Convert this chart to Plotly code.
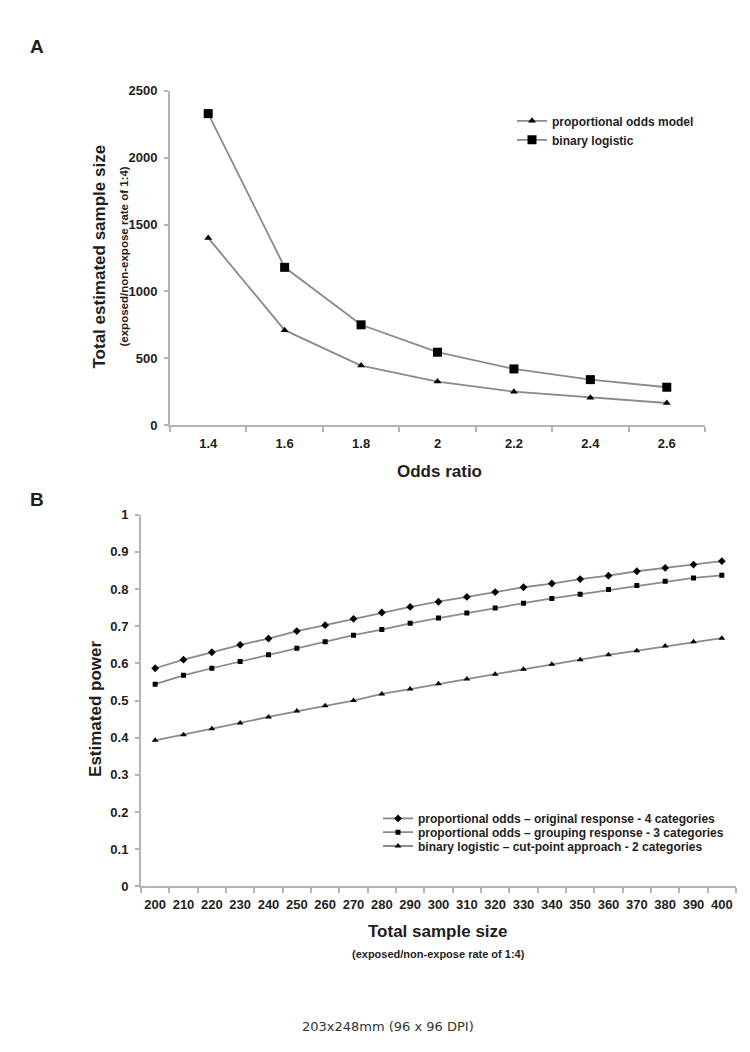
import plotly.graph_objects as go

# ---------------- data ----------------
odds_ratio = ["1.4", "1.6", "1.8", "2", "2.2", "2.4", "2.6"]
po_model_A = [1400, 710, 445, 325, 250, 205, 165]
binary_A = [2330, 1180, 750, 545, 420, 340, 283]

sample_size = ["200", "210", "220", "230", "240", "250", "260", "270", "280", "290",
               "300", "310", "320", "330", "340", "350", "360", "370", "380", "390", "400"]
po_original = [0.587, 0.610, 0.630, 0.650, 0.667, 0.687, 0.703, 0.720, 0.737, 0.752,
               0.766, 0.779, 0.792, 0.805, 0.815, 0.827, 0.836, 0.848, 0.857, 0.866, 0.875]
po_grouping = [0.544, 0.568, 0.587, 0.605, 0.623, 0.641, 0.658, 0.676, 0.691, 0.708,
               0.722, 0.736, 0.749, 0.762, 0.775, 0.786, 0.799, 0.810, 0.821, 0.830, 0.837]
binary_B = [0.393, 0.408, 0.424, 0.440, 0.456, 0.472, 0.486, 0.500, 0.518, 0.531,
            0.545, 0.558, 0.571, 0.584, 0.598, 0.610, 0.623, 0.634, 0.647, 0.658, 0.668]

names_A = ["proportional odds model", "binary logistic"]
names_B = ["proportional odds \u2013 original response - 4 categories",
           "proportional odds \u2013 grouping response - 3 categories",
           "binary logistic \u2013 cut-point approach - 2 categories"]

# ---------------- style ----------------
W, H = 750, 1052
FONT = "Liberation Sans, Arial, sans-serif"
LINE_C = "#8a8a8a"
AXIS_C = "#b4b4b4"
TXT_C = "#1e1e1e"


def px_x(p):
    return p / W


def px_y(p):
    return 1 - p / H


fig = go.Figure()

# Panel A
fig.add_trace(go.Scatter(x=odds_ratio, y=po_model_A, name=names_A[0], mode="lines+markers",
                         line=dict(color=LINE_C, width=1.8),
                         marker=dict(symbol="triangle-up", size=7, color="black"),
                         xaxis="x", yaxis="y", legend="legend"))
fig.add_trace(go.Scatter(x=odds_ratio, y=binary_A, name=names_A[1], mode="lines+markers",
                         line=dict(color=LINE_C, width=1.8),
                         marker=dict(symbol="square", size=9, color="black"),
                         xaxis="x", yaxis="y", legend="legend"))

# Panel B
specs_B = [(po_original, "diamond", 6, "legend2"),
           (po_grouping, "square", 5, "legend3"),
           (binary_B, "triangle-up", 6, "legend4")]
for (vals, sym, sz, leg), nm in zip(specs_B, names_B):
    fig.add_trace(go.Scatter(x=sample_size, y=vals, name=nm, mode="lines+markers",
                             line=dict(color=LINE_C, width=1.8),
                             marker=dict(symbol=sym, size=sz, color="black"),
                             xaxis="x2", yaxis="y2", legend=leg))

tickfont = dict(family=FONT, size=13, color=TXT_C, weight="bold")
common_x = dict(type="category", tickson="boundaries", showline=True, linecolor=AXIS_C,
                linewidth=2, ticks="outside", ticklen=5, tickwidth=1.5, tickcolor=AXIS_C,
                showgrid=False, zeroline=False, tickfont=tickfont, ticklabelstandoff=5,
                tickangle=0, fixedrange=True)
common_y = dict(showline=True, linecolor=AXIS_C, linewidth=2, ticks="outside", ticklen=4,
                tickwidth=1.5, tickcolor=AXIS_C, showgrid=False, zeroline=False,
                tickfont=tickfont, ticklabelstandoff=4, fixedrange=True)

legfont = dict(family=FONT, size=12, color=TXT_C, weight="bold")


def leg(x, y):
    return dict(x=px_x(x), y=px_y(y), xanchor="left", yanchor="middle",
                bgcolor="rgba(0,0,0,0)", font=legfont, itemwidth=30)


fig.update_layout(
    width=W, height=H, margin=dict(l=0, r=0, t=0, b=0),
    paper_bgcolor="white", plot_bgcolor="white",
    xaxis=dict(domain=[px_x(162), px_x(697)], anchor="y", range=[-0.5, 6.5], **common_x),
    yaxis=dict(domain=[px_y(416), px_y(77)], anchor="x", range=[0, 2500], dtick=500,
               **common_y),
    xaxis2=dict(domain=[px_x(133), px_x(728)], anchor="y2", range=[-0.5, 20.5], **common_x),
    yaxis2=dict(domain=[px_y(884), px_y(507)], anchor="x2", range=[0, 1], dtick=0.1,
                tickformat="~g", **common_y),
    legend=leg(504, 117),
    legend2=leg(370, 815),
    legend3=leg(370, 829),
    legend4=leg(370, 843),
    showlegend=True,
)

ann = []


def add_text(text, x, y, size, angle=0, weight="bold", color=TXT_C, family=FONT):
    ann.append(dict(text=text, x=px_x(x), y=px_y(y), xref="paper", yref="paper",
                    xanchor="center", yanchor="middle", showarrow=False, textangle=angle,
                    font=dict(family=family, size=size, color=color, weight=weight)))


add_text("A", 29, 32, 19)
add_text("B", 29, 492, 19)
add_text("Total estimated sample size", 92, 245, 17, angle=-90)
add_text("(exposed/non-expose rate of 1:4)", 116, 245, 11.5, angle=-90)
add_text("Odds ratio", 432, 463, 17)
add_text("Estimated power", 88, 704, 17, angle=-90)
add_text("Total sample size", 430, 930, 17)
add_text("(exposed/non-expose rate of 1:4)", 430, 953, 11)
add_text("203x248mm (96 x 96 DPI)", 380, 1026, 13, weight="normal", color="#333333",
         family="DejaVu Sans, Verdana, sans-serif")

fig.update_layout(annotations=ann)

fig.write_html("out.html")
